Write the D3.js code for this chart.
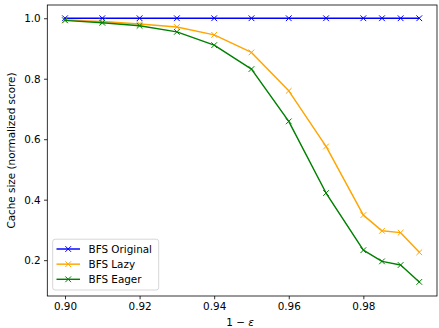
<!DOCTYPE html>
<html><head><meta charset="utf-8">
<script src="https://cdn.jsdelivr.net/npm/d3@7"></script>
<style>body{margin:0;background:#fff}svg{display:block}text{font-family:"DejaVu Sans",sans-serif}</style>
</head><body>
<svg id="c" width="439" height="328"></svg>
<script>
const epsX = [0.90, 0.91, 0.92, 0.93, 0.94, 0.95, 0.96, 0.97, 0.98, 0.985, 0.99, 0.995];
const bfsOriginal = [1, 1, 1, 1, 1, 1, 1, 1, 1, 1, 1, 1];
const bfsLazy = [0.994, 0.989, 0.981, 0.971, 0.945, 0.887, 0.760, 0.576, 0.349, 0.297, 0.291, 0.226];
const bfsEager = [0.993, 0.985, 0.975, 0.955, 0.911, 0.832, 0.659, 0.422, 0.233, 0.196, 0.184, 0.128];
const seriesNames = ["BFS Original", "BFS Lazy", "BFS Eager"];
const seriesColors = ["#0000ff", "#ffa500", "#008000"];
const xTicks = [0.90, 0.92, 0.94, 0.96, 0.98];
const yTicks = [0.2, 0.4, 0.6, 0.8, 1.0];
const series = [bfsOriginal, bfsLazy, bfsEager];

const L = 47.3, R = 437, T = 5, B = 296;
const svg = d3.select("#c");
const fs = 10.4;

const x = d3.scaleLinear().domain([0.89525, 0.99975]).range([L, R]);
const y = d3.scaleLinear().domain([0.0815, 1.0438]).range([B, T]);

// axes
const xAxis = d3.axisBottom(x).tickValues(xTicks).tickFormat(d3.format(".2f")).tickSizeOuter(0).tickSize(3.3).tickPadding(3.3);
const yAxis = d3.axisLeft(y).tickValues(yTicks).tickFormat(d3.format(".1f")).tickSizeOuter(0).tickSize(3.3).tickPadding(3.3);
const gx = svg.append("g").attr("transform", `translate(0,${B})`).call(xAxis);
const gy = svg.append("g").attr("transform", `translate(${L},0)`).call(yAxis);
[gx, gy].forEach(g => {
  g.select(".domain").remove();
  g.selectAll(".tick line").attr("stroke", "#000").attr("stroke-width", 0.8);
  g.selectAll(".tick text").attr("font-size", fs).attr("fill", "#000").style("font-family", "DejaVu Sans");
});

// lines
const line = d3.line().x((d, i) => x(epsX[i])).y(d => y(d));
const ms = 2.85;
series.forEach((s, k) => {
  svg.append("path").datum(s).attr("d", line).attr("fill", "none")
    .attr("stroke", seriesColors[k]).attr("stroke-width", 1.45).attr("stroke-linejoin", "round").attr("stroke-linecap", "square");
  svg.append("g").selectAll("path").data(s).join("path")
    .attr("d", (d, i) => { const cx = x(epsX[i]), cy = y(d); return `M${cx-ms},${cy-ms}L${cx+ms},${cy+ms}M${cx-ms},${cy+ms}L${cx+ms},${cy-ms}`; })
    .attr("stroke", seriesColors[k]).attr("stroke-width", 1);
});

// spines
svg.append("rect").attr("x", L).attr("y", T).attr("width", R - L).attr("height", B - T)
  .attr("fill", "none").attr("stroke", "#000").attr("stroke-width", 0.8);

// legend
const lg = svg.append("g");
lg.append("rect").attr("x", 52.7).attr("y", 239.2).attr("width", 106).attr("height", 50.8).attr("rx", 2.5)
  .attr("fill", "#fff").attr("fill-opacity", 0.8).attr("stroke", "#cccccc").attr("stroke-width", 0.8);
seriesNames.forEach((n, k) => {
  const cy = 249 + k * 15.15;
  lg.append("line").attr("x1", 56.5).attr("x2", 80).attr("y1", cy).attr("y2", cy)
    .attr("stroke", seriesColors[k]).attr("stroke-width", 1.45);
  lg.append("path").attr("d", `M${68.2-ms},${cy-ms}L${68.2+ms},${cy+ms}M${68.2-ms},${cy+ms}L${68.2+ms},${cy-ms}`)
    .attr("stroke", seriesColors[k]).attr("stroke-width", 1);
  lg.append("text").attr("x", 88.5).attr("y", cy + 3.8).attr("font-size", fs).attr("fill", "#000").text(n);
});

// axis labels
const xl = svg.append("text").attr("x", 240).attr("y", 325.5).attr("text-anchor", "middle").attr("font-size", fs).attr("fill", "#000");
xl.append("tspan").text("1 − ");
xl.append("tspan").attr("font-style", "italic").text("ε");
svg.append("text").attr("transform", `translate(14.5,${(T + B) / 2}) rotate(-90)`).attr("text-anchor", "middle")
  .attr("font-size", fs).attr("fill", "#000").text("Cache size (normalized score)");
</script>
</body></html>
